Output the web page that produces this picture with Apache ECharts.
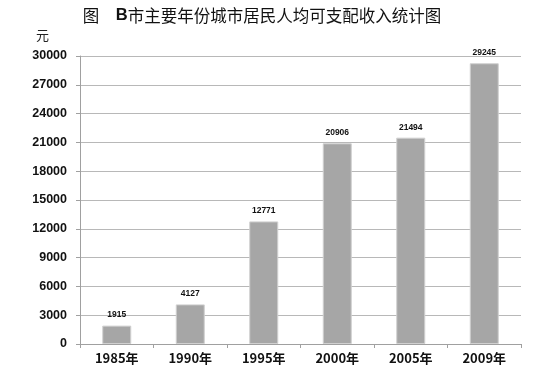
<!DOCTYPE html>
<html><head><meta charset="utf-8">
<script src="https://cdn.jsdelivr.net/npm/echarts@6/dist/echarts.min.js"></script>
<style>html,body{margin:0;padding:0;background:#fff}#c{width:539px;height:387px}</style>
</head><body><div id="c"></div>
<script>
var categories = ['1985年','1990年','1995年','2000年','2005年','2009年'];
var values = [1915, 4127, 12771, 20906, 21494, 29245];
var yTicks = [0,3000,6000,9000,12000,15000,18000,21000,24000,27000,30000];
var chart = echarts.init(document.getElementById('c'));
chart.setOption({
  animation:false,
  title:{text:'图　{b|B}市主要年份城市居民人均可支配收入统计图', left:257, textAlign:'center', top:2,
    textStyle:{fontFamily:'Noto Sans CJK SC', fontSize:16.5, fontWeight:'normal', color:'#111',
      rich:{b:{fontFamily:'Liberation Sans', fontWeight:'bold', fontSize:16.5, color:'#111'}}}},
  graphic:[{type:'text', left:36, top:29, style:{text:'元', font:'13px "Noto Sans CJK SC"', fill:'#222'}}],
  grid:{left:80, right:18, top:56, bottom:43},
  xAxis:{type:'category', data:categories,
    axisLine:{lineStyle:{color:'#a0a0a0'}},
    axisTick:{show:true, alignWithLabel:false, length:4, lineStyle:{color:'#a0a0a0'}},
    axisLabel:{fontFamily:'Noto Sans CJK SC', fontWeight:'bold', fontSize:13, color:'#111', margin:8}},
  yAxis:{type:'value', min:0, max:30000, interval:3000,
    axisLine:{show:true, lineStyle:{color:'#a0a0a0'}},
    axisTick:{show:true, length:4, inside:false, lineStyle:{color:'#a0a0a0'}},
    splitLine:{lineStyle:{color:'#b8b8b8'}},
    axisLabel:{fontFamily:'Liberation Sans', fontWeight:'bold', fontSize:12.5, color:'#111', margin:13,
      formatter:function(v){return String(v);}}},
  series:[{type:'bar', data:values, barWidth:29,
    itemStyle:{color:'#a6a6a6', borderColor:'#d0d0d0', borderWidth:1},
    label:{show:true, position:'top', distance:6, fontFamily:'Liberation Sans', fontWeight:'bold', fontSize:8.5, color:'#111'}}]
});
</script></body></html>
